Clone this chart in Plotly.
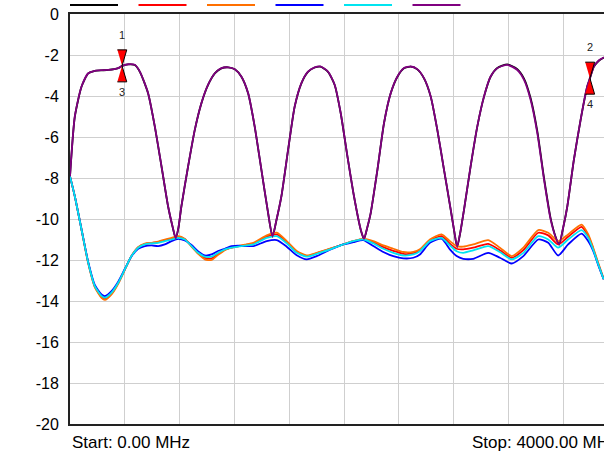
import plotly.graph_objects as go

# ---------------- data ----------------
freq_upper = [0, 35, 84, 133, 181, 230, 279, 352, 381, 425, 473, 510, 570, 619, 668, 716, 750, 772, 792,
              813, 862, 911, 959, 1008, 1057, 1105, 1154, 1203, 1251, 1300, 1348, 1397, 1446, 1478, 1505,
              1543, 1592, 1640, 1689, 1737, 1786, 1827, 1883, 1932, 1976, 2025, 2073, 2122, 2146, 2170,
              2195, 2244, 2292, 2341, 2390, 2438, 2487, 2535, 2584, 2633, 2681, 2730, 2779, 2805, 2826, 2850,
              2876, 2924, 2973, 3022, 3070, 3119, 3192, 3265, 3314, 3362, 3411, 3460, 3508, 3545, 3570, 3600,
              3630, 3678, 3727, 3775, 3795, 3824, 3860, 3897]
purple_db = [-7.92, -5.00, -3.54, -2.89, -2.77, -2.74, -2.73, -2.64, -2.53, -2.45, -2.48, -2.81, -3.86, -5.48, -7.43, -9.38, -10.40, -10.95, -10.40,
             -9.38, -7.43, -5.64, -4.35, -3.45, -2.89, -2.64, -2.60, -2.69, -3.05, -3.86, -5.48, -7.59, -9.70, -10.85, -10.10,
             -8.89, -6.62, -4.51, -3.37, -2.81, -2.60, -2.56, -2.81, -3.45, -4.83, -6.94, -8.89, -10.51, -10.97, -10.40,
             -9.70, -7.59, -5.32, -3.86, -3.05, -2.64, -2.56, -2.69, -3.13, -4.02, -5.64, -7.59, -9.54, -10.60, -11.35, -10.60,
             -9.54, -7.43, -5.48, -4.02, -3.05, -2.64, -2.48, -2.73, -3.21, -4.18, -5.81, -8.08, -10.02, -10.90, -11.24, -10.40,
             -9.38, -7.10, -5.16, -3.54, -3.13, -2.56, -2.27, -2.11]
black_db = [-7.92, -5.02, -3.55, -2.90, -2.78, -2.75, -2.73, -2.64, -2.53, -2.46, -2.49, -2.82, -3.87, -5.49, -7.44, -9.39, -10.42, -10.97, -10.42,
            -9.39, -7.44, -5.65, -4.36, -3.46, -2.90, -2.65, -2.60, -2.70, -3.06, -3.87, -5.49, -7.60, -9.71, -10.87, -10.12,
            -8.90, -6.63, -4.52, -3.38, -2.82, -2.61, -2.57, -2.82, -3.46, -4.84, -6.95, -8.90, -10.52, -10.98, -10.42,
            -9.71, -7.60, -5.33, -3.87, -3.06, -2.65, -2.57, -2.70, -3.14, -4.03, -5.65, -7.60, -9.55, -10.62, -11.37, -10.62,
            -9.55, -7.44, -5.49, -4.03, -3.06, -2.63, -2.46, -2.69, -3.15, -4.10, -5.72, -8.00, -9.96, -10.88, -11.26, -10.42,
            -9.39, -7.11, -5.17, -3.55, -3.14, -2.57, -2.28, -2.12]

freq_lower = [0, 35, 84, 133, 181, 230, 255, 303, 352, 400, 449, 498, 546, 595, 644, 692, 741, 790, 838, 887,
              936, 984, 1033, 1081, 1130, 1179, 1227, 1276, 1338, 1436, 1509, 1582, 1655, 1728, 1801, 1898,
              1995, 2068, 2141, 2214, 2287, 2360, 2433, 2506, 2554, 2627, 2712, 2773, 2822, 2870, 2943, 3053,
              3138, 3224, 3309, 3418, 3491, 3563, 3636, 3734, 3783, 3819, 3856, 3895]
orange_db = [-7.92, -8.89, -10.51, -12.16, -13.32, -13.85, -13.95, -13.68, -13.16, -12.48, -11.80, -11.37, -11.20, -11.16, -11.10, -11.00, -10.92, -10.84, -10.97, -11.35,
             -11.70, -11.97, -12.00, -11.75, -11.52, -11.40, -11.32, -11.25, -11.16, -10.80, -10.67, -11.08, -11.56, -11.78, -11.65, -11.45,
             -11.24, -11.08, -10.97, -11.08, -11.29, -11.45, -11.61, -11.60, -11.48, -11.00, -10.75, -11.08, -11.32, -11.35, -11.24, -11.03,
             -11.40, -11.81, -11.40, -10.54, -10.67, -11.08, -10.75, -10.27, -10.75, -11.40, -12.15, -12.90]
red_db = [-7.92, -8.89, -10.51, -12.14, -13.30, -13.80, -13.90, -13.64, -13.13, -12.47, -11.80, -11.38, -11.22, -11.17, -11.13, -11.04, -10.96, -10.88, -10.98, -11.33,
          -11.67, -11.90, -11.92, -11.70, -11.50, -11.40, -11.33, -11.27, -11.20, -10.86, -10.75, -11.13, -11.60, -11.81, -11.67, -11.46,
          -11.24, -11.08, -10.98, -11.13, -11.37, -11.55, -11.70, -11.67, -11.52, -11.05, -10.84, -11.20, -11.45, -11.48, -11.40, -11.21,
          -11.52, -11.89, -11.52, -10.67, -10.80, -11.24, -10.87, -10.38, -10.84, -11.45, -12.20, -12.94]
cyan_db = [-7.92, -8.89, -10.51, -12.13, -13.27, -13.75, -13.84, -13.59, -13.11, -12.46, -11.81, -11.40, -11.24, -11.19, -11.16, -11.08, -11.00, -10.92, -11.00, -11.32,
           -11.65, -11.84, -11.84, -11.65, -11.48, -11.40, -11.35, -11.30, -11.24, -10.92, -10.84, -11.19, -11.65, -11.84, -11.70, -11.48,
           -11.24, -11.08, -11.00, -11.19, -11.45, -11.65, -11.78, -11.73, -11.57, -11.08, -10.92, -11.29, -11.57, -11.65, -11.53, -11.32,
           -11.61, -11.97, -11.65, -10.84, -11.00, -11.40, -11.00, -10.54, -10.92, -11.50, -12.22, -12.94]
blue_db = [-7.92, -8.89, -10.50, -12.10, -13.22, -13.68, -13.76, -13.52, -13.06, -12.44, -11.82, -11.45, -11.32, -11.29, -11.32, -11.24, -11.08, -10.97, -11.05, -11.27,
           -11.58, -11.78, -11.73, -11.56, -11.45, -11.32, -11.30, -11.32, -11.32, -11.08, -11.03, -11.35, -11.77, -11.97, -11.81, -11.50,
           -11.24, -11.13, -11.03, -11.32, -11.61, -11.81, -11.92, -11.89, -11.73, -11.16, -10.96, -11.48, -11.81, -11.94, -11.94, -11.65,
           -11.89, -12.17, -11.81, -11.00, -11.16, -11.78, -11.24, -10.71, -11.08, -11.55, -12.25, -12.94]

marker_freq = [380, 3795]
marker_db = [-2.53, -3.13]
marker_top_labels = ["1", "2"]
marker_bottom_labels = ["3", "4"]

y_ticks = list(range(0, -21, -2))
x_ticks = list(range(0, 4001, 400))
trace_colors = ["#000000", "#ff0000", "#ff7000", "#0000ff", "#00e4f0", "#800080"]

# ---------------- geometry ----------------
W, H = 604, 453
ML, MT, MB = 70, 14, 29
PLOT_W = W - ML
PLOT_H = H - MT - MB
PX_PER_MHZ = 548 / 4000.0
X_MAX = PLOT_W / PX_PER_MHZ
PX_PER_DB = PLOT_H / 20.0

fig = go.Figure()

series = [
    (freq_upper, black_db, trace_colors[0]),
    (freq_lower, red_db, trace_colors[1]),
    (freq_lower, orange_db, trace_colors[2]),
    (freq_lower, blue_db, trace_colors[3]),
    (freq_lower, cyan_db, trace_colors[4]),
    (freq_upper, purple_db, trace_colors[5]),
]
for xs, ys, col in series:
    fig.add_trace(go.Scatter(x=xs, y=ys, mode="lines", showlegend=False, hoverinfo="skip",
                             line=dict(color=col, width=1.8, shape="spline", smoothing=0.6)))

# bow-tie markers
dx = 4.7 / PX_PER_MHZ
dy = 16 / PX_PER_DB
for f, v, lt, lb in zip(marker_freq, marker_db, marker_top_labels, marker_bottom_labels):
    fig.add_trace(go.Scatter(
        x=[f - dx, f + dx, f, None, f - dx, f + dx, f],
        y=[v + dy, v + dy, v, None, v - dy, v - dy, v],
        mode="lines", fill="toself", fillcolor="#ff0000",
        line=dict(color="#000000", width=1), showlegend=False, hoverinfo="skip"))
    fig.add_annotation(x=f, y=v, text=lt, showarrow=False, yshift=31,
                       font=dict(family="Liberation Sans, Arial", size=11, color="#222222"))
    fig.add_annotation(x=f, y=v, text=lb, showarrow=False, yshift=-26,
                       font=dict(family="Liberation Sans, Arial", size=11, color="#222222"))

# legend swatches (no text)
for i, col in enumerate(trace_colors):
    x0 = (70 + i * 68.5 - ML) / PLOT_W
    x1 = (118 + i * 68.5 - ML) / PLOT_W
    yy = 1 + (MT - 5) / PLOT_H
    fig.add_shape(type="line", xref="paper", yref="paper", x0=x0, x1=x1, y0=yy, y1=yy,
                  line=dict(color=col, width=2))

# start / stop labels
lab_y = -(442 - MT - PLOT_H) / PLOT_H
fig.add_annotation(xref="paper", yref="paper", x=0, y=lab_y,
                   text="Start: 0.00 MHz", showarrow=False, xanchor="left", yanchor="middle",
                   font=dict(family="Liberation Sans, Arial", size=17, color="#000000"))
fig.add_annotation(xref="paper", yref="paper", x=(620 - ML) / PLOT_W, y=lab_y,
                   text="Stop: 4000.00 MHz", showarrow=False, xanchor="right", yanchor="middle",
                   font=dict(family="Liberation Sans, Arial", size=17, color="#000000"))

fig.update_layout(
    width=W, height=H,
    margin=dict(l=ML, r=0, t=MT, b=MB, pad=0),
    paper_bgcolor="white", plot_bgcolor="white",
    showlegend=False,
    font=dict(family="Liberation Sans, Arial", size=16, color="#000000"),
)
fig.update_xaxes(range=[0, X_MAX], tickvals=x_ticks, showticklabels=False,
                 showgrid=True, gridcolor="#cfcfcf", gridwidth=1, zeroline=False,
                 showline=True, linecolor="#222222", linewidth=2, mirror=True, ticks="")
fig.update_yaxes(range=[-20, 0], tickvals=y_ticks, ticktext=[str(t) for t in y_ticks],
                 showgrid=True, gridcolor="#cfcfcf", gridwidth=1, zeroline=False,
                 showline=True, linecolor="#222222", linewidth=2, mirror=False,
                 ticks="outside", ticklen=6, tickcolor="rgba(0,0,0,0)")

fig.write_html("out.html", config={"displayModeBar": False},
               post_script="document.body.style.margin='0';document.body.style.overflow='hidden';")
